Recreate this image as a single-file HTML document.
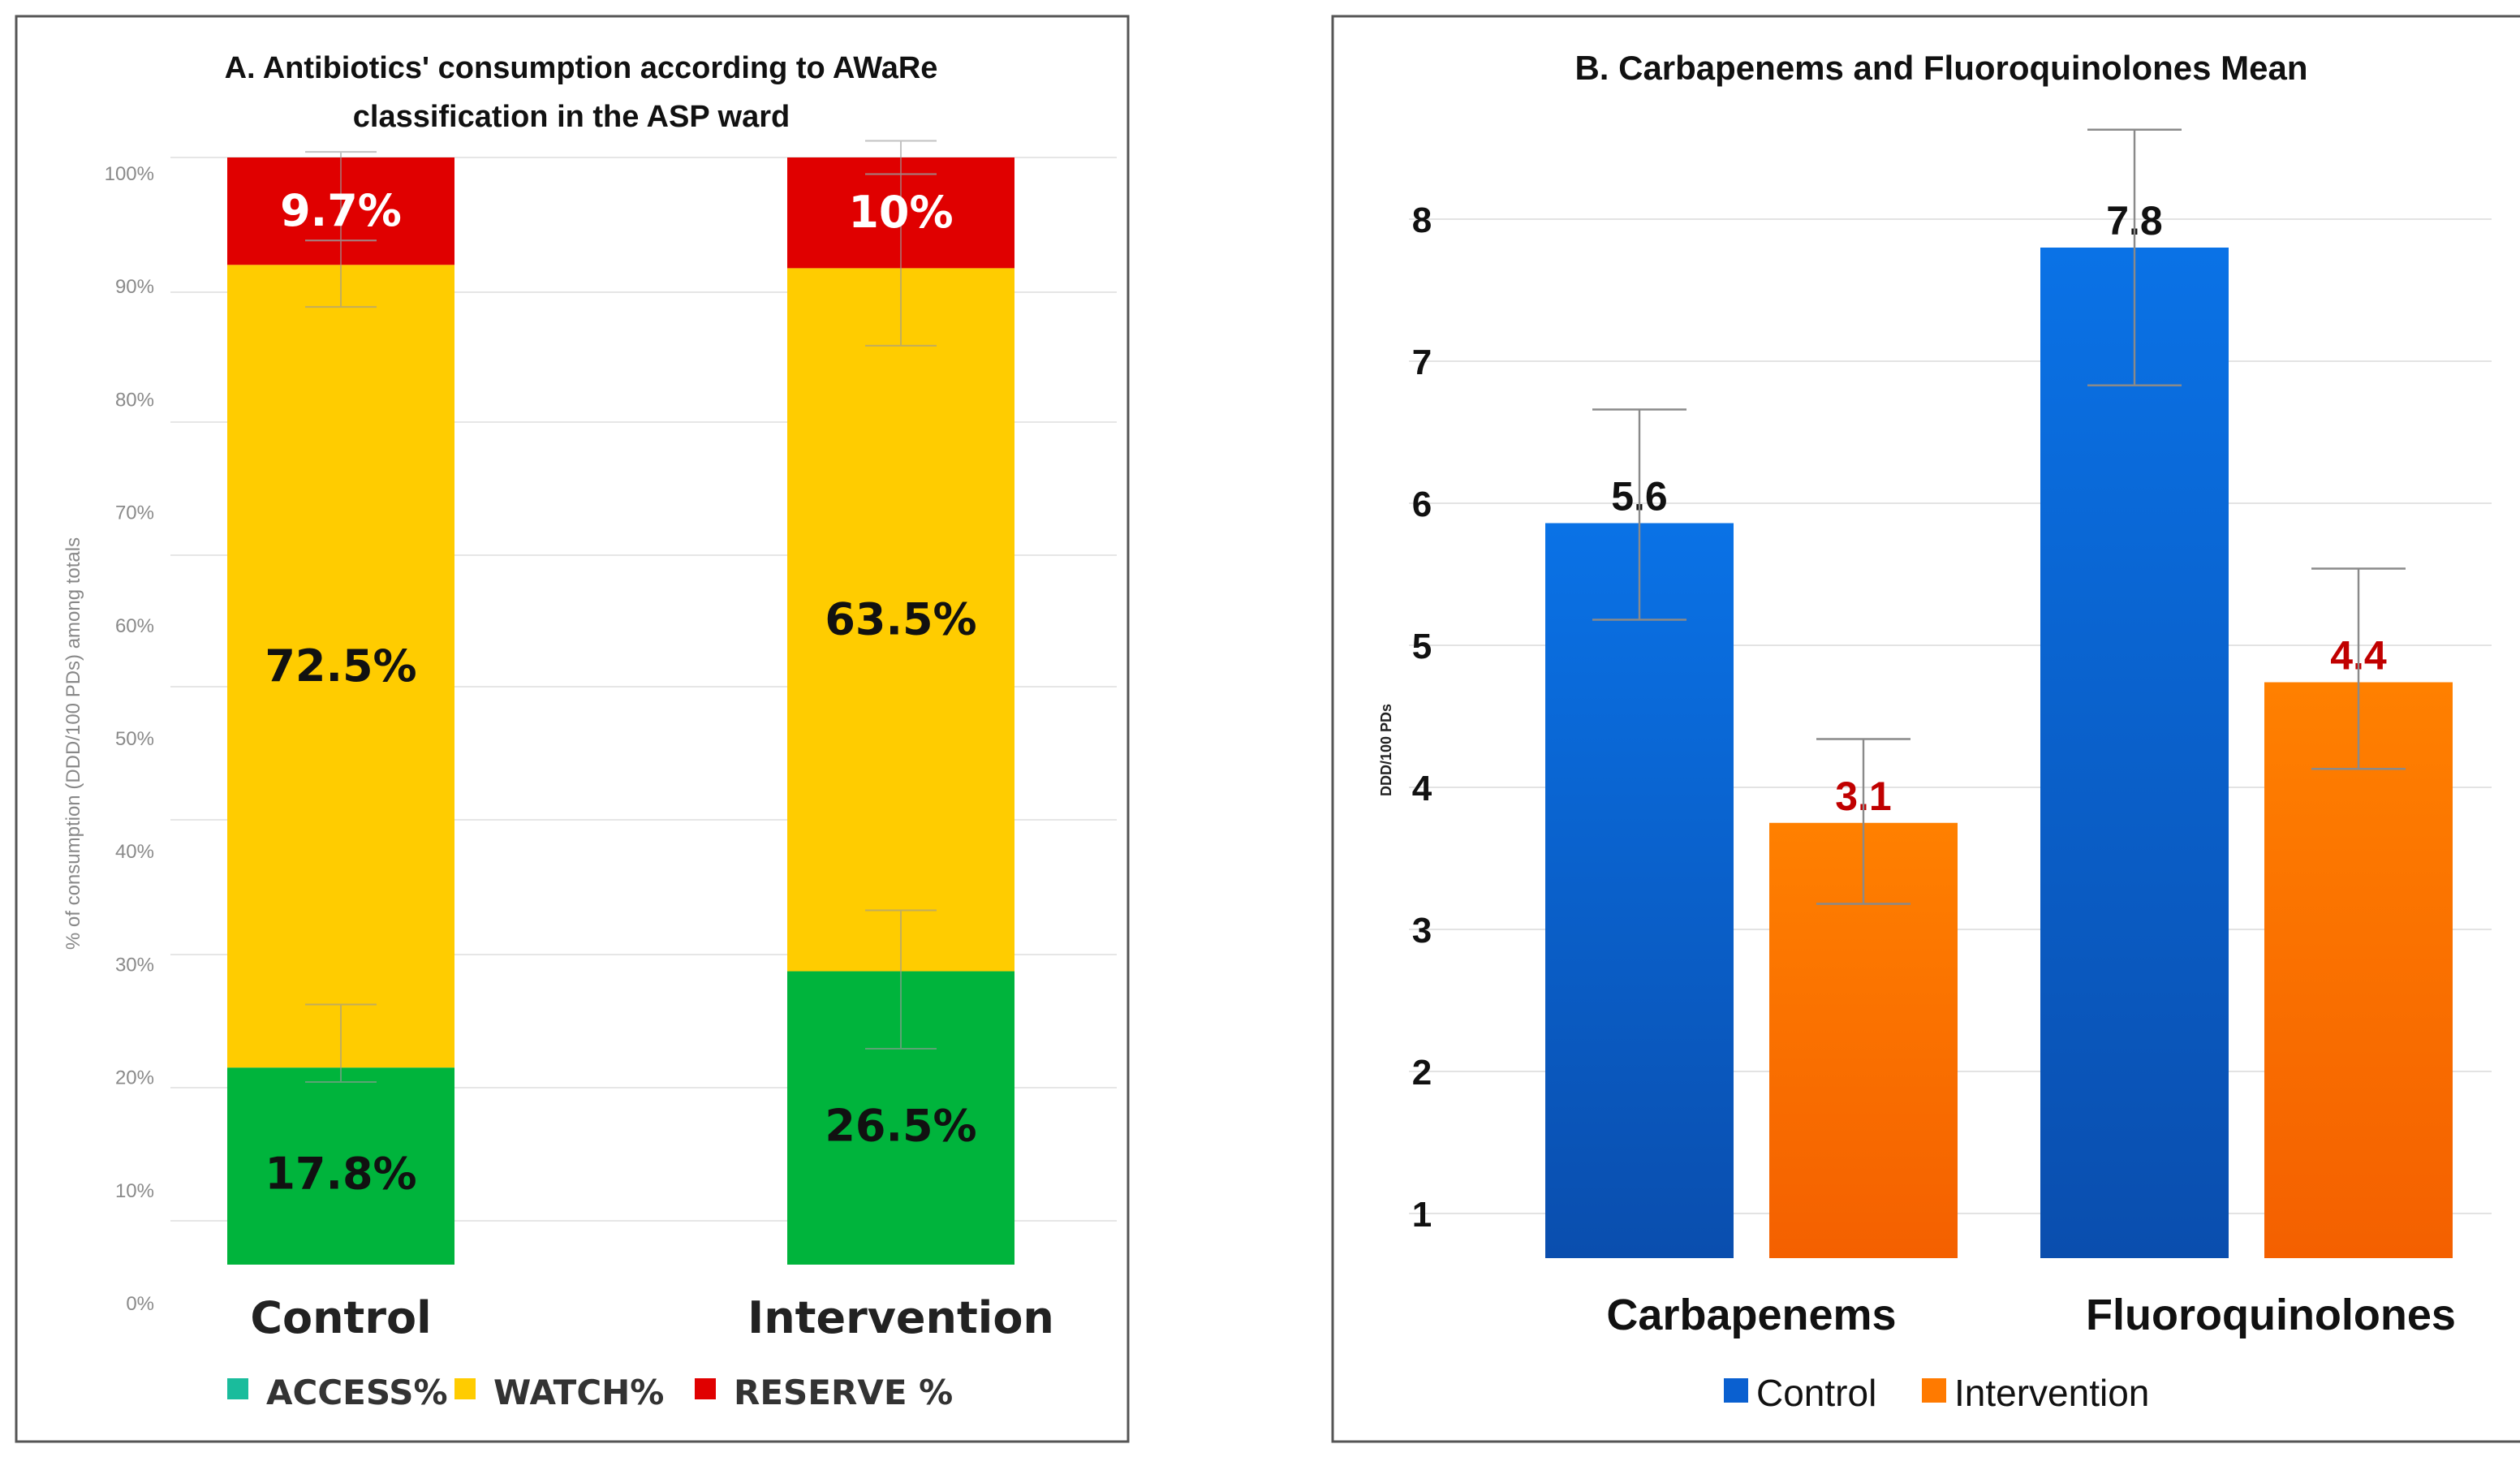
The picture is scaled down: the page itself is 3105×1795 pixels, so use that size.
<!DOCTYPE html>
<html><head><meta charset="utf-8"><style>
html,body{margin:0;padding:0;background:#fff;}
svg{display:block;font-family:"Liberation Sans",sans-serif;}
</style></head><body>
<svg id="root" width="3105" height="1795" viewBox="0 0 1552.5 897.5" xmlns="http://www.w3.org/2000/svg">
<defs>
<linearGradient id="gBlue" x1="0" y1="0" x2="0" y2="1"><stop offset="0" stop-color="#0a72e6"/><stop offset="1" stop-color="#0a4eae"/></linearGradient>
<linearGradient id="gOrange" x1="0" y1="0" x2="0" y2="1"><stop offset="0" stop-color="#ff8000"/><stop offset="1" stop-color="#f46000"/></linearGradient>
</defs>
<rect x="10" y="10" width="685" height="878" fill="#fff" stroke="#555" stroke-width="1.5"/>
<rect x="821" y="10" width="734" height="878" fill="#fff" stroke="#555" stroke-width="1.5"/>
<g id="pa">
<text x="358" y="48" text-anchor="middle" font-size="19" font-weight="bold" fill="#111">A. Antibiotics' consumption according to AWaRe</text>
<text x="352" y="78" text-anchor="middle" font-size="19" font-weight="bold" fill="#111">classification in the ASP ward</text>
<text transform="translate(49,458) rotate(-90)" text-anchor="middle" font-size="12" fill="#888">% of consumption (DDD/100 PDs) among totals</text>
</g>
<g id="pb">
<text x="1196" y="49" text-anchor="middle" font-size="21" font-weight="bold" fill="#111">B. Carbapenems  and Fluoroquinolones  Mean</text>
<text transform="translate(857,462) rotate(-90)" text-anchor="middle" font-size="9" font-weight="bold" fill="#222">DDD/100 PDs</text>
</g>
</svg>
<script>
// Panel A data
const aCategories = ["Control", "Intervention"];
const aSeries = ["ACCESS%", "WATCH%", "RESERVE %"];
const aAccess = [17.8, 26.5];
const aWatch = [72.5, 63.5];
const aReserve = [9.7, 10];
const aAccessErr = [[16.5, 23.5], [19.5, 32]];
const aWatchErr = [[86.5, 92.5], [83, 98.5]];
const aReserveErr = [[92.5, 100.5], [98.5, 101.5]];
const aTicks = ["0%","10%","20%","30%","40%","50%","60%","70%","80%","90%","100%"];
// Panel B data
const bCategories = ["Carbapenems", "Fluoroquinolones"];
const bSeries = ["Control", "Intervention"];
const bControl = [5.86, 7.8];
const bIntervention = [3.75, 4.74];
const bControlLabels = ["5.6", "7.8"];
const bInterventionLabels = ["3.1", "4.4"];
const bControlErr = [[5.18, 6.66], [6.83, 8.63]];
const bInterventionErr = [[3.18, 4.34], [4.13, 5.54]];
const bTicks = [1,2,3,4,5,6,7,8];

const NS = "http://www.w3.org/2000/svg";
function mk(parent, tag, attrs, text){
  const e = document.createElementNS(NS, tag);
  for (const k in attrs) e.setAttribute(k, attrs[k]);
  if (text !== undefined) e.textContent = text;
  parent.appendChild(e);
  return e;
}
const pa = document.getElementById("pa");
const pb = document.getElementById("pb");

// ---- Panel A ----
const aY = v => 779 - v / 100 * 682;
const aTickY = i => 803 - i * 69.6;
const aBarX = [140, 485], aBarW = 140;
[97,180,260,342,423,505,588,670,752].forEach((gy,i)=>{
  const l = mk(pa,"line",{x1:105,x2:688,y1:gy,y2:gy,stroke:"#e6e6e6","stroke-width":1});
  
  
});
aTicks.forEach((t,i)=>{
  const e = mk(pa,"text",{x:95,y:aTickY(i)+4,"text-anchor":"end","font-size":12,fill:"#8a8a8a"},t);
  
  
});
const segColors = ["#00b43c","#ffcc00","#e00000"];
aCategories.forEach((c,i)=>{
  const vals = [aAccess[i], aWatch[i], aReserve[i]];
  const tot = vals[0]+vals[1]+vals[2];
  let cum = 0;
  vals.forEach((v,s)=>{
    const v0 = cum/tot*100, v1 = (cum+v)/tot*100;
    cum += v;
    const r = mk(pa,"rect",{x:aBarX[i],y:aY(v1),width:aBarW,height:aY(v0)-aY(v1),fill:segColors[s]});
    
    
  });
  const errs = [aAccessErr[i], aWatchErr[i], aReserveErr[i]];
  const cx = aBarX[i] + aBarW/2;
  errs.forEach((er,s)=>{
    const g = mk(pa,"g",{stroke:"#9a9a9a","stroke-width":1,opacity:0.6});
    
    
    mk(g,"line",{x1:cx,x2:cx,y1:aY(er[0]),y2:aY(er[1])});
    mk(g,"line",{x1:cx-22,x2:cx+22,y1:aY(er[0]),y2:aY(er[0])});
    mk(g,"line",{x1:cx-22,x2:cx+22,y1:aY(er[1]),y2:aY(er[1])});
  });
  cum = 0;
  vals.forEach((v,s)=>{
    const mid = (cum + v/2)/tot*100; cum += v;
    let ly = aY(mid) + 9;
    if (s===0) ly = aY(mid) + 14;
    const t = mk(pa,"text",{x:cx,y:ly,"text-anchor":"middle","font-size":27,"font-weight":"bold","font-family":"DejaVu Sans, sans-serif",fill:s===2?"#fff":"#111"}, v+"%");
    
    
  });
  const cl = mk(pa,"text",{x:cx,y:821,"text-anchor":"middle","font-size":27,"font-weight":"bold","font-family":"DejaVu Sans, sans-serif",fill:"#222"},c);
  
  
});
const legAColors = ["#1abc9c","#ffcc00","#e00000"];
const legAX = [140, 280, 428];
aSeries.forEach((s,i)=>{
  const g = mk(pa,"g",{});
  
  
  mk(g,"rect",{x:legAX[i],y:849,width:13,height:13,fill:legAColors[i]});
  mk(g,"text",{x:legAX[i]+24,y:865,"font-size":21,"font-weight":"bold","font-family":"DejaVu Sans, sans-serif",fill:"#333"},s);
});

// ---- Panel B ----
const bY = v => 835 - v * 87.5;
bTicks.forEach(t=>{
  const l = mk(pb,"line",{x1:868,x2:1535,y1:bY(t),y2:bY(t),stroke:"#e3e3e3","stroke-width":1});
  
  
  const e = mk(pb,"text",{x:876,y:bY(t)+8,"text-anchor":"middle","font-size":22,"font-weight":"bold",fill:"#111"},String(t));
  
  
});
const groupX = [952, 1257], bW = 116, bGap = 138;
bCategories.forEach((c,i)=>{
  const specs = [
    {v:bControl[i], e:bControlErr[i], lab:bControlLabels[i], fill:"url(#gBlue)", lc:"#111", s:"control"},
    {v:bIntervention[i], e:bInterventionErr[i], lab:bInterventionLabels[i], fill:"url(#gOrange)", lc:"#c00000", s:"intervention"}
  ];
  specs.forEach((sp,k)=>{
    const x = groupX[i] + k*bGap;
    const r = mk(pb,"rect",{x:x,y:bY(sp.v),width:bW,height:775-bY(sp.v),fill:sp.fill});
    
    
    const cx = x + bW/2;
    const t = mk(pb,"text",{x:cx,y:bY(sp.v)-8,"text-anchor":"middle","font-size":25,"font-weight":"bold",fill:sp.lc},sp.lab);
    
    
    const g = mk(pb,"g",{stroke:"#8a8a8a","stroke-width":1.2});
    
    
    mk(g,"line",{x1:cx,x2:cx,y1:bY(sp.e[0]),y2:bY(sp.e[1])});
    mk(g,"line",{x1:cx-29,x2:cx+29,y1:bY(sp.e[0]),y2:bY(sp.e[0])});
    mk(g,"line",{x1:cx-29,x2:cx+29,y1:bY(sp.e[1]),y2:bY(sp.e[1])});
  });
  const cl = mk(pb,"text",{x:groupX[i]+(bW+bGap)/2+i*15,y:819,"text-anchor":"middle","font-size":27,"font-weight":"bold",fill:"#111"},c);
  
  
});
const legBColors = ["#0a60d0","#ff7a00"];
const legBX = [1062, 1184];
bSeries.forEach((s,i)=>{
  const g = mk(pb,"g",{});
  
  
  mk(g,"rect",{x:legBX[i],y:849,width:15,height:15,fill:legBColors[i]});
  mk(g,"text",{x:legBX[i]+20,y:866,"font-size":23,fill:"#111"},s);
});
</script>
</body></html>
